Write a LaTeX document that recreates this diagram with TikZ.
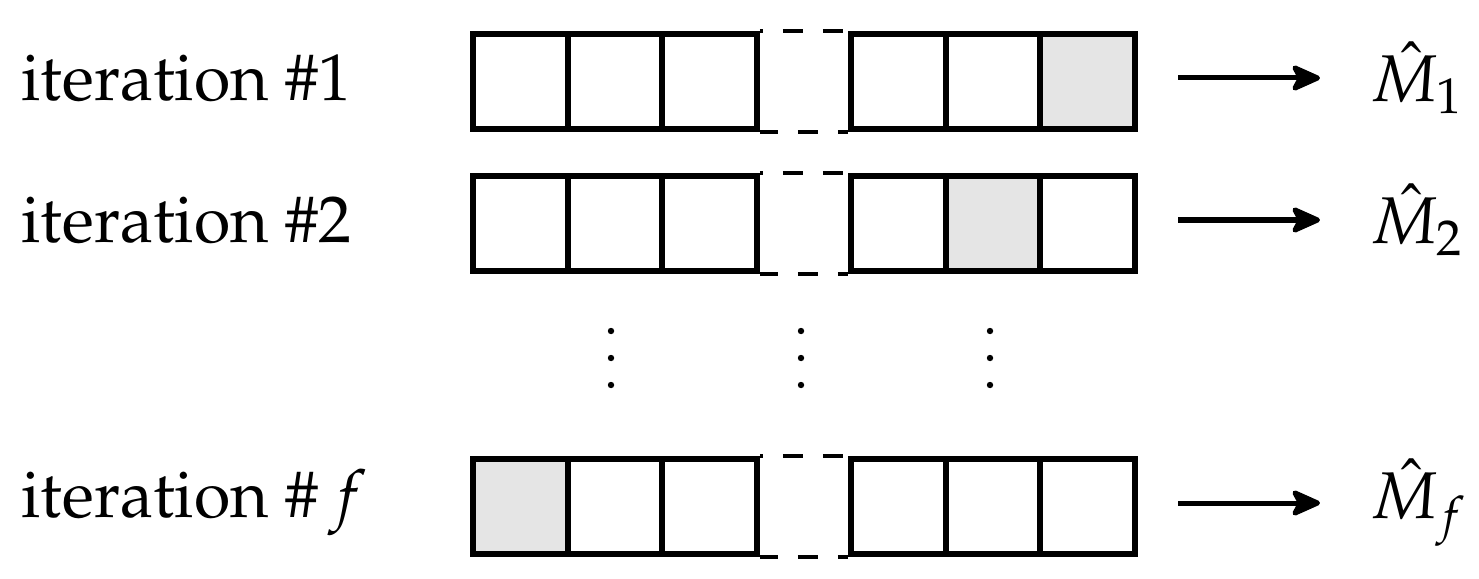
\documentclass[tikz,border=0pt]{standalone}
\usepackage[T1]{fontenc}
\usepackage{mathpazo}
\usetikzlibrary{arrows.meta}
\definecolor{cellgray}{gray}{0.9}
\tikzset{
  cell/.style={draw,line width=0.062cm,minimum size=0.945cm,inner sep=0pt,anchor=north west},
  gapline/.style={line width=0.045cm,dash pattern=on 0.2cm off 0.2cm},
  arr/.style={line width=0.05cm,shorten >=0.5cm,-{Stealth[length=0.34cm,width=0.3cm,inset=0.08cm,round]}},
}

\begin{document}
\begin{tikzpicture}[x=0.01cm,y=-0.01cm]
  \fontsize{18.8}{22}\selectfont
  \useasboundingbox (0,0) rectangle (1479,579);
  % one row per iteration: name/top/shaded cell/number
  \foreach \r/\t/\g/\n in {1/31/6/1, 2/173/5/2, f/456/1/{\,f}} {
    \node[anchor=west,inner sep=0pt] (l\r) at (21,\t+47) {iteration \#$\n$};
    \foreach \j/\x in {1/470,2/564.5,3/659,4/848,5/942.5,6/1037} {
      \ifnum\j=\g \def\fc{cellgray}\else\def\fc{white}\fi
      \node[cell,fill=\fc] (c\r\j) at (\x,\t) {};
    }
    \draw[gapline,dash phase=0.17cm] (c\r3.north east) -- (c\r4.north west);
    \draw[gapline,dash phase=0.02cm] (c\r3.south east) -- (c\r4.south west);
    \node[anchor=west,inner sep=0pt] (m\r) at (1370,\t+47) {$\hat{M}_\r$};
    \coordinate (a\r) at (1178,\t+47);
    \draw[arr] (a\r) -- (m\r.west);
  }
  % dots between the rows
  \foreach \x in {611,801,990}
    \foreach \y in {331,358,385}
      \fill (\x,\y) circle (0.032cm);
\end{tikzpicture}
\end{document}
